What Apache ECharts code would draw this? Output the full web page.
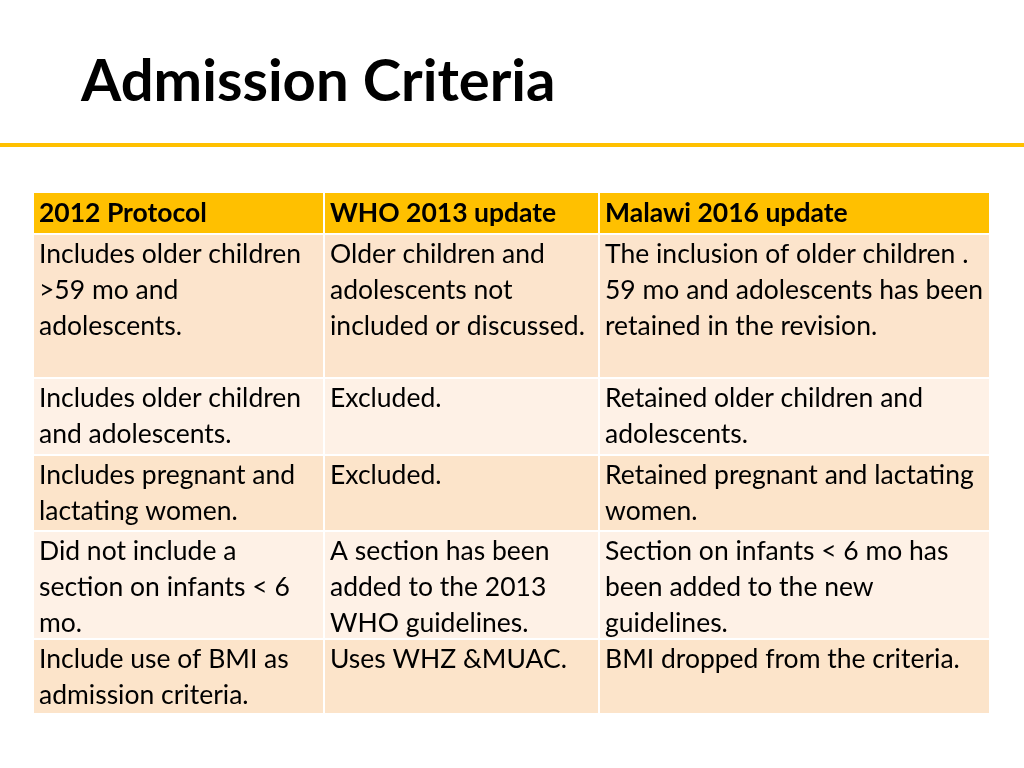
<!DOCTYPE html>
<html>
<head>
<meta charset="utf-8">
<script src="https://cdn.jsdelivr.net/npm/echarts@6/dist/echarts.min.js"></script>
<style>
  html, body { margin: 0; padding: 0; background: #fff; }
  #chart { width: 1024px; height: 768px; }
</style>
</head>
<body>
<div id="chart"></div>
<script>
var chart = echarts.init(document.getElementById('chart'))

// table content, one array per column (header first)
var protocol2012 = [
  '2012 Protocol',
  'Includes older children\n>59 mo and\nadolescents.',
  'Includes older children\nand adolescents.',
  'Includes pregnant and\nlactating women.',
  'Did not include a\nsection on infants < 6\nmo.',
  'Include use of BMI as\nadmission criteria.'
]
var who2013 = [
  'WHO 2013 update',
  'Older children and\nadolescents not\nincluded or discussed.',
  'Excluded.',
  'Excluded.',
  'A section has been\nadded to the 2013\nWHO guidelines.',
  'Uses WHZ &MUAC.'
]
var malawi2016 = [
  'Malawi 2016 update',
  'The inclusion of older children .\n59 mo and adolescents has been\nretained in the revision.',
  'Retained older children and\nadolescents.',
  'Retained pregnant and lactating\nwomen.',
  'Section on infants < 6 mo has\nbeen added to the new\nguidelines.',
  'BMI dropped from the criteria.'
]
var columns = [protocol2012, who2013, malawi2016]

// layout: cell edges in axis units
var colEdges = [0, 291, 566, 957]
var rowEdges = [0, 42, 186, 263, 339, 447, 522]
var rowFill = ['#FFC000', '#FCE4CC', '#FEF1E6', '#FCE4CA', '#FEF1E6', '#FCE4CA']

var cells = []
columns.forEach(function (col, c) {
  col.forEach(function (txt, r) {
    cells.push([c, r, txt])
  })
})

var fontFamily = 'Lato, "Open Sans", sans-serif'

option = {
  backgroundColor: '#fff',
  title: {
    text: 'Admission Criteria',
    left: 76,
    top: 48,
    textStyle: {
      fontFamily: fontFamily,
      fontSize: 58,
      fontWeight: 'bold',
      color: '#000'
    }
  },
  graphic: [{
    type: 'rect',
    shape: { x: 0, y: 143, width: 1024, height: 4 },
    style: { fill: '#FFC000' }
  }],
  grid: { left: 33, right: 34, top: 192, bottom: 54 },
  xAxis: { type: 'value', min: 0, max: 957, show: false },
  yAxis: { type: 'value', min: 0, max: 522, inverse: true, show: false },
  series: [{
    type: 'custom',
    data: cells,
    renderItem: function (params, api) {
      var c = api.value(0), r = api.value(1)
      var txt = cells[params.dataIndex][2]
      var p0 = api.coord([colEdges[c], rowEdges[r]])
      var p1 = api.coord([colEdges[c + 1], rowEdges[r + 1]])
      return {
        type: 'group',
        children: [{
          type: 'rect',
          shape: { x: p0[0], y: p0[1], width: p1[0] - p0[0], height: p1[1] - p0[1] },
          style: { fill: rowFill[r], stroke: '#fff', lineWidth: 2 }
        }, {
          type: 'text',
          x: p0[0] + 6,
          y: p0[1] + (r === 0 ? 3 : 2),
          style: {
            text: txt,
            fontFamily: fontFamily,
            fontSize: 26.5,
            fontWeight: r === 0 ? 'bold' : 'normal',
            lineHeight: 36,
            fill: '#000',
            verticalAlign: 'top',
            align: 'left'
          }
        }]
      }
    }
  }]
}
chart.setOption(option)
</script>
</body>
</html>
